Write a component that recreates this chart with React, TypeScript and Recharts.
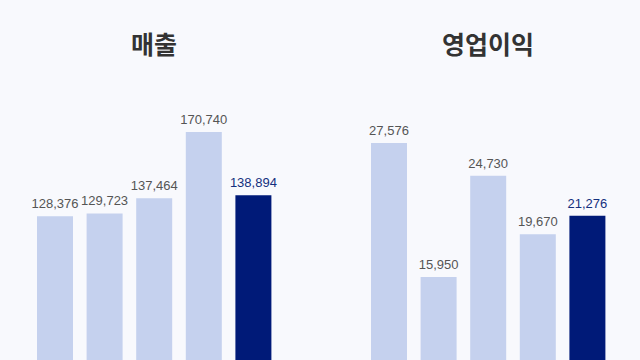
import { BarChart, Bar, XAxis, YAxis, Cell, LabelList } from 'recharts'

const periods = ['p1', 'p2', 'p3', 'p4', 'p5']
const salesValues = [128376, 129723, 137464, 170740, 138894]
const profitValues = [27576, 15950, 24730, 19670, 21276]
const titles = ['매출', '영업이익']

const LIGHT = '#c5d1ee'
const DARK = '#001a78'
const BG = '#f8f9fd'

const salesData = periods.map((p, i) => ({ name: p, value: salesValues[i] }))
const profitData = periods.map((p, i) => ({ name: p, value: profitValues[i] }))

function MiniBar({
  data,
  height,
  top,
  max
}: {
  data: { name: string; value: number }[]
  height: number
  top: number
  max: number
}) {
  const last = data.length - 1
  return (
    <BarChart width={308} height={height} data={data} margin={{ top, right: 30, bottom: 0, left: 30 }}>
      <XAxis dataKey="name" hide />
      <YAxis hide domain={[0, max]} />
      <Bar dataKey="value" barSize={36} isAnimationActive={false}>
        {data.map((d, i) => (
          <Cell key={d.name} fill={i === last ? DARK : LIGHT} />
        ))}
        <LabelList
          dataKey="value"
          position="top"
          offset={8}
          content={(props: any) => {
            const { x, y, width, value, index } = props
            return (
              <text
                x={x + width / 2}
                y={y - 8}
                textAnchor="middle"
                fontSize={13}
                fontFamily="'Liberation Sans', Arial, sans-serif"
                fill={index === last ? '#14307e' : '#555'}
              >
                {Number(value).toLocaleString('en-US')}
              </text>
            )
          }}
        />
      </Bar>
    </BarChart>
  )
}

export default function App() {
  const titleStyle = {
    position: 'absolute' as const,
    top: 26,
    width: 308,
    textAlign: 'center' as const,
    fontFamily: "'Noto Sans CJK KR', sans-serif",
    fontWeight: 700,
    fontSize: 25,
    lineHeight: '34px',
    color: '#333'
  }
  return (
    <div style={{ position: 'fixed', left: 0, top: 0, width: 640, height: 360, overflow: 'hidden', background: BG }}>
      <div style={{ ...titleStyle, left: 0 }}>{titles[0]}</div>
      <div style={{ ...titleStyle, left: 334 }}>{titles[1]}</div>
      <div style={{ position: 'absolute', left: 0, top: 0 }}>
        <MiniBar data={salesData} height={471} top={74} max={200000} />
      </div>
      <div style={{ position: 'absolute', left: 334, top: 0 }}>
        <MiniBar data={profitData} height={461} top={92} max={32000} />
      </div>
    </div>
  )
}
